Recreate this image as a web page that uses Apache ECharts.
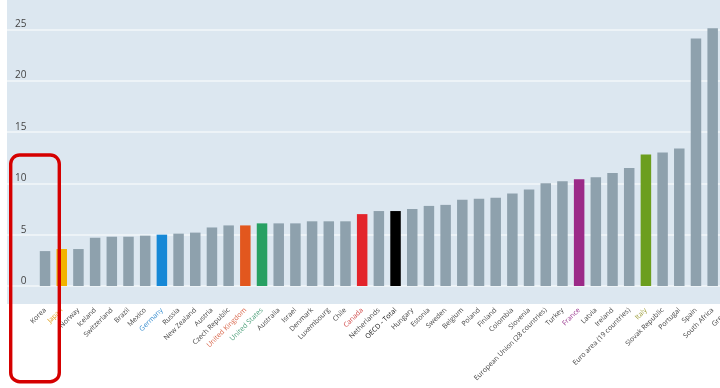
<!DOCTYPE html>
<html>
<head>
<meta charset="utf-8">
<script src="https://cdn.jsdelivr.net/npm/echarts@6/dist/echarts.min.js"></script>
<style>
html,body{margin:0;padding:0;background:#fff;}
#chart{width:720px;height:388px;}
</style>
</head>
<body>
<div id="chart"></div>
<script>
const categories = ["Korea","Japan","Norway","Iceland","Switzerland","Brazil","Mexico","Germany","Russia","New Zealand","Austria","Czech Republic","United Kingdom","United States","Australia","Israel","Denmark","Luxembourg","Chile","Canada","Netherlands","OECD - Total","Hungary","Estonia","Sweden","Belgium","Poland","Finland","Colombia","Slovenia","European Union (28 countries)","Turkey","France","Latvia","Ireland","Euro area (19 countries)","Italy","Slovak Republic","Portugal","Spain","South Africa","Greece"];
const values = [3.4,3.6,3.6,4.7,4.8,4.8,4.9,5.0,5.1,5.2,5.7,5.9,5.9,6.1,6.1,6.1,6.3,6.3,6.3,7.0,7.3,7.3,7.5,7.8,7.9,8.4,8.5,8.6,9.0,9.4,10.0,10.2,10.4,10.6,11.0,11.5,12.8,13.0,13.4,24.1,25.1,26.5];
const yTicks = [0,5,10,15,20,25];
const highlightBar = {"Japan":"#f2b300","Germany":"#1688d6","United Kingdom":"#e2571e","United States":"#27a062","Canada":"#e3242b","OECD - Total":"#000000","France":"#9b2a88","Italy":"#6c9e1e"};
const highlightLabel = {"Japan":"#e0a020","Germany":"#3a8fd0","United Kingdom":"#d8664a","United States":"#4a9e78","Canada":"#d04848","OECD - Total":"#111111","France":"#9a3a90","Italy":"#a0a040"};

const BAR_GREY = "#8ea1ad";
const chart = echarts.init(document.getElementById('chart'));
const font = "Open Sans";
chart.setOption({
  animation:false,
  backgroundColor:'#ffffff',
  graphic:[
    {type:'rect', z:-10, silent:true, shape:{x:7,y:0,width:713,height:304}, style:{fill:'#dce7f0'}},
    {type:'rect', z:100, silent:true, shape:{x:10.7,y:155,width:48.6,height:226.7,r:9}, style:{fill:'none',stroke:'#d50000',lineWidth:3.4}}
  ],
  grid:[
    {left:7,width:713,top:29.3,height:256.7,show:false,containLabel:false,outerBoundsMode:'none'},
    {left:36.7,width:701,top:29.3,height:256.7,show:false,containLabel:false,outerBoundsMode:'none'}
  ],
  xAxis:[
    {gridIndex:0,type:'value',show:false,min:0,max:1},
    {gridIndex:1,type:'category',data:categories,axisLine:{show:false},axisTick:{show:false},
     axisLabel:{interval:0,rotate:45,margin:23,fontSize:7,fontFamily:font,
       color:(v)=>highlightLabel[v]||'#444444'}}
  ],
  yAxis:[
    {gridIndex:0,type:'value',min:0,max:25,interval:5,axisLine:{show:false},axisTick:{show:false},
     splitLine:{lineStyle:{color:'#f3f7fa',width:1.5}},
     axisLabel:{inside:true,align:'right',margin:19.5,verticalAlign:'bottom',fontSize:10,fontFamily:font,color:'#444444',
       formatter:(v)=>yTicks.includes(v)?String(v):''}},
    {gridIndex:1,type:'value',min:0,max:25,interval:5,show:false}
  ],
  series:[{
    type:'bar',xAxisIndex:1,yAxisIndex:1,barWidth:10.5,clip:false,
    data:values.map((v,i)=>({value:v,itemStyle:{color:highlightBar[categories[i]]||BAR_GREY}}))
  }]
});
</script>
</body>
</html>
